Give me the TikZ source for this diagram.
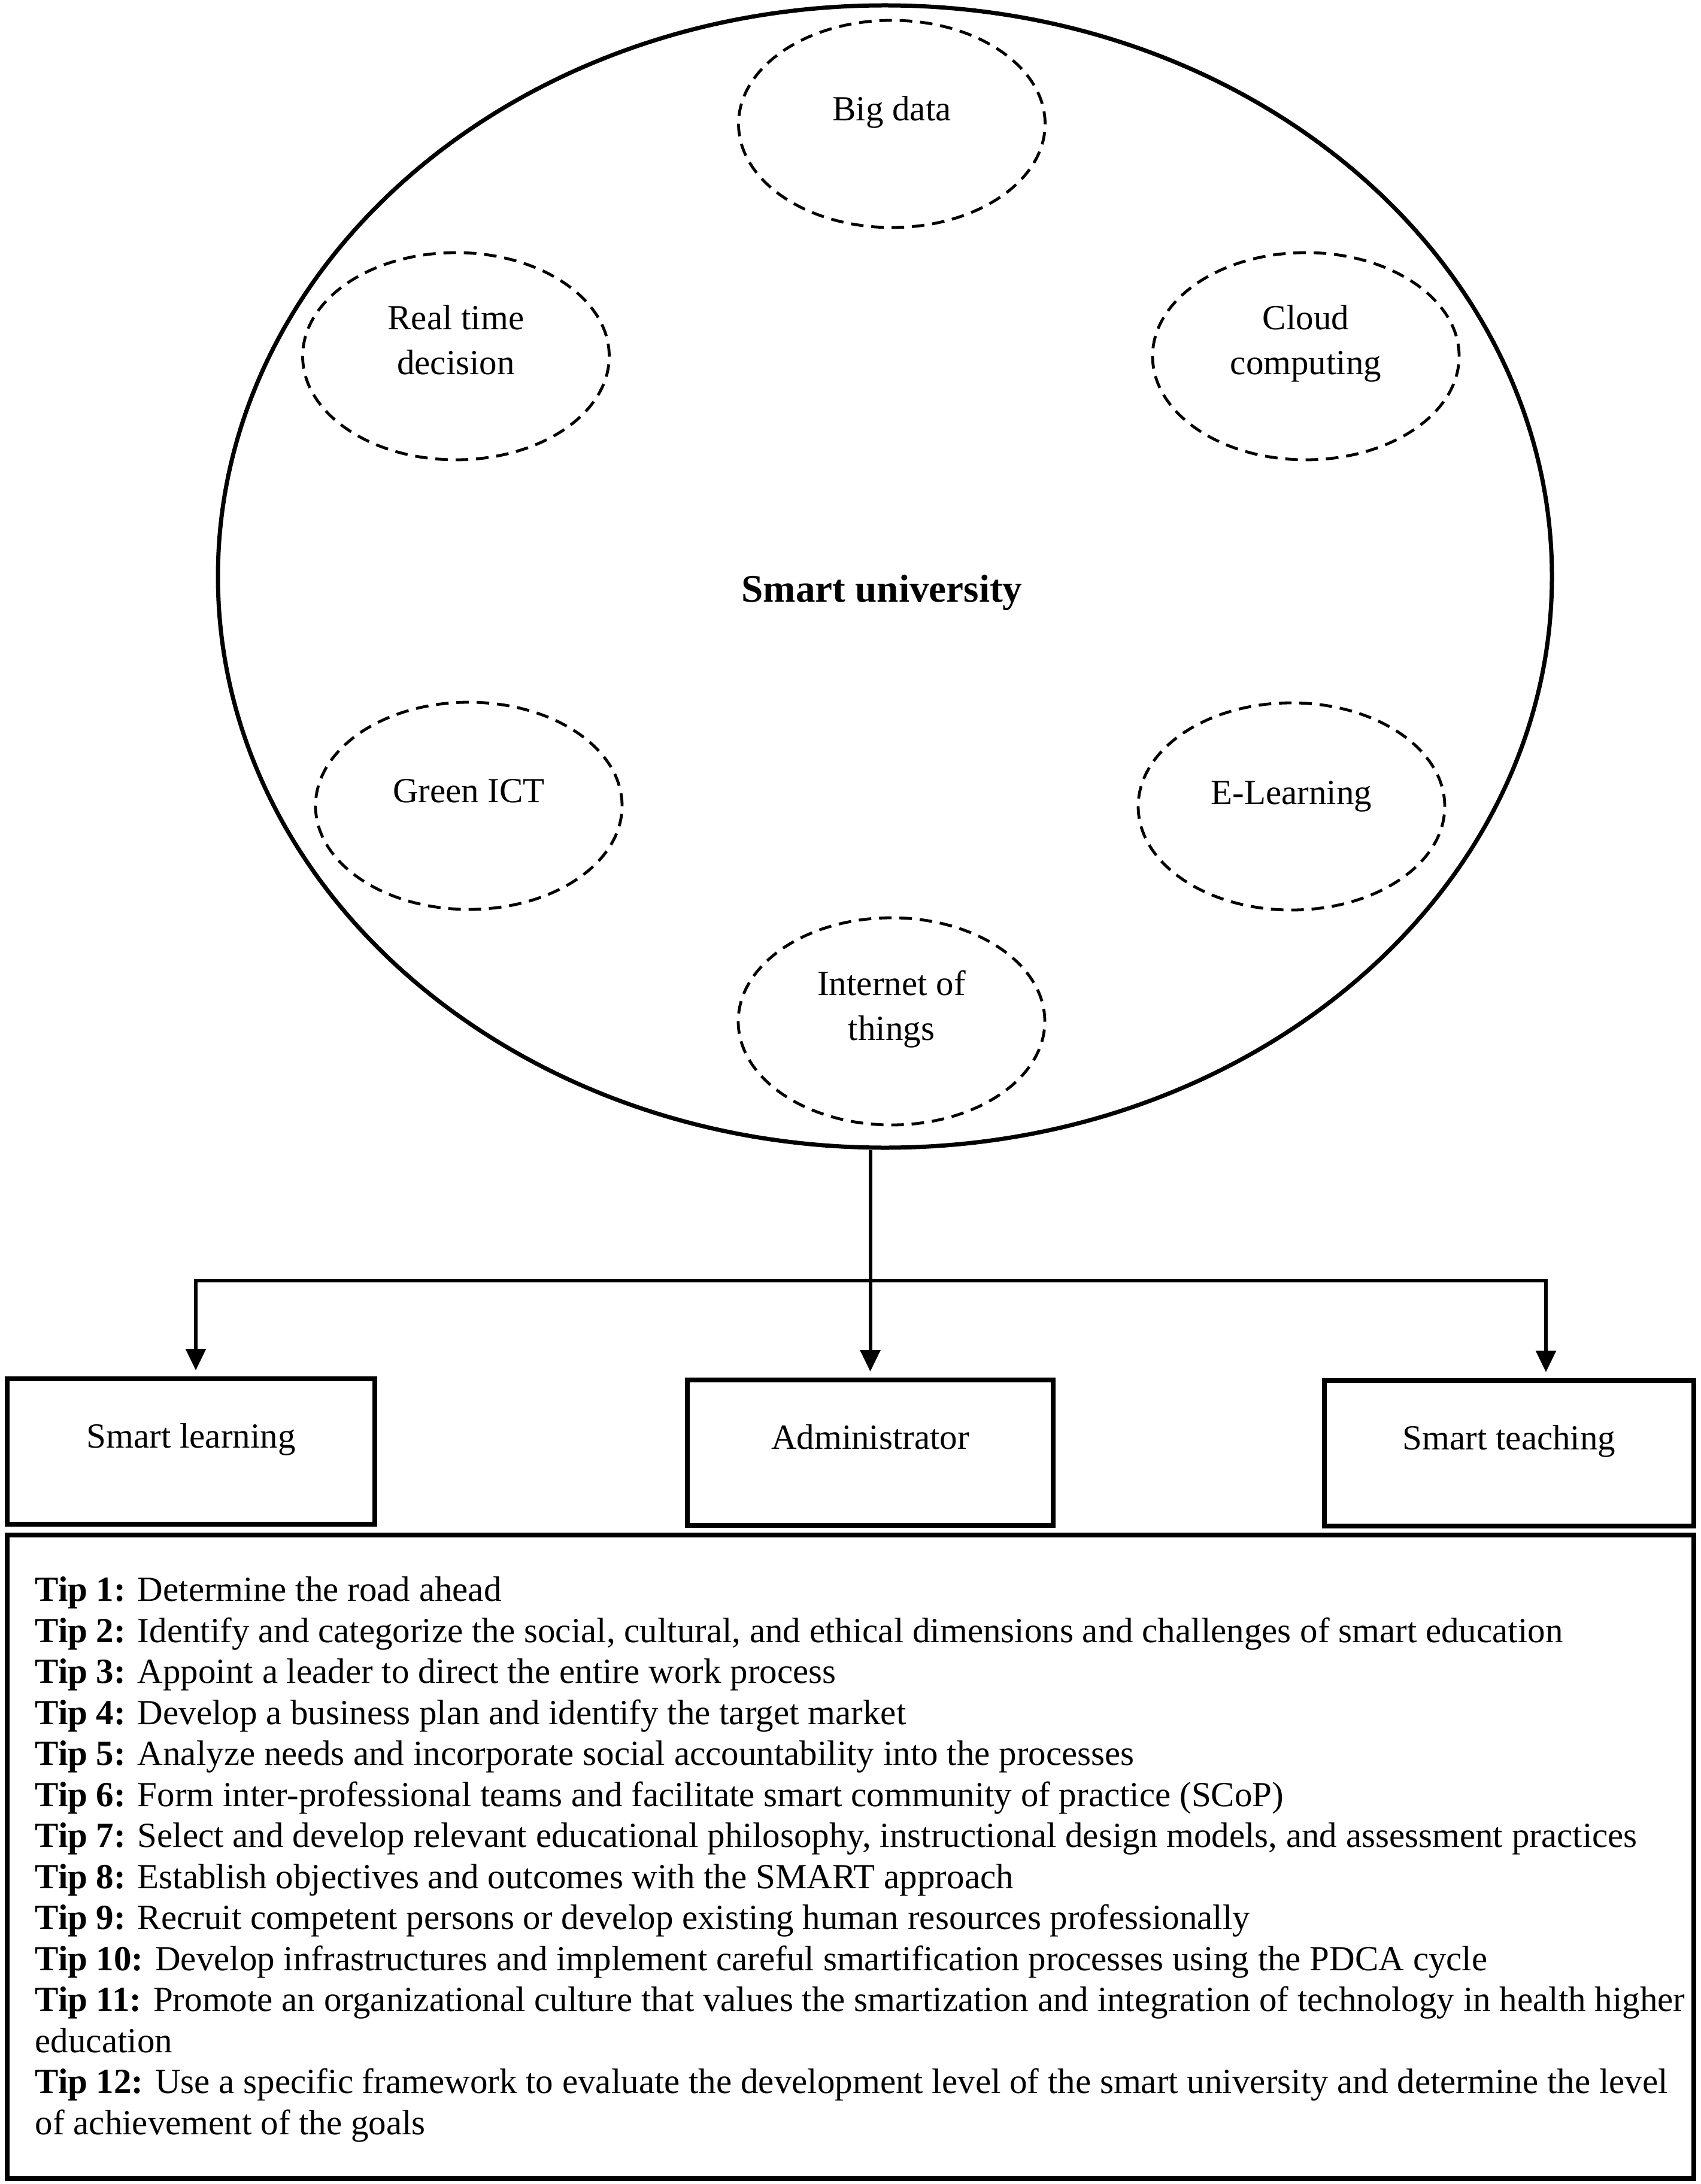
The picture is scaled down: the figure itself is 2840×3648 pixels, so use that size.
\documentclass[tikz,border=0pt]{standalone}
\usepackage{fontspec}
\setmainfont{Liberation Serif}
\usetikzlibrary{arrows.meta,shapes.geometric}
\begin{document}
\begin{tikzpicture}[x=0.25pt,y=-0.25pt,
  bigell/.style={ellipse,draw,line width=1.75pt,minimum width=557pt,minimum height=477pt,inner sep=0pt},
  dashell/.style={ellipse,draw,line width=1.2pt,dash pattern=on 5.25pt off 3.25pt,minimum width=128pt,minimum height=86.5pt,inner sep=0pt},
  lbl/.style={font=\fontsize{14.75}{18.75}\selectfont,align=center,inner sep=0pt,anchor=base},
  boxnode/.style={rectangle,draw,line width=2pt,minimum height=60.75pt,inner sep=0pt,
    font=\fontsize{14.75}{17}\selectfont,text height=10pt,text depth=13pt},
  conn/.style={line width=1.5pt},
  arr/.style={line width=1.5pt,-{Triangle[length=9pt,width=8.25pt]},shorten >=2.5pt}
]
\fill[white] (0,0) rectangle (2840,3648);
\useasboundingbox (0,0) rectangle (2840,3648);

% main ellipse
\node[bigell] (uni) at (1478,963) {};
\node[font=\fontsize{16.3}{19}\selectfont\bfseries,inner sep=0pt,anchor=base] (unitxt) at (1473,1005) {Smart university};

% dashed ellipses
\node[dashell] (bd)  at (1489.5,207) {};
\node[dashell] (rt)  at (761.5,595) {};
\node[dashell] (cc)  at (2181,595) {};
\node[dashell] (gi)  at (783,1346) {};
\node[dashell] (el)  at (2157,1347) {};
\node[dashell] (iot) at (1489,1706) {};

% labels (base anchor = baseline of last line)
\node[lbl] (bdt)  at (1489.5,202) {Big data};
\node[lbl] (rtt)  at (761.5,626) {Real time\\decision};
\node[lbl] (cct)  at (2181,626) {Cloud\\computing};
\node[lbl] (git)  at (783,1340) {Green ICT};
\node[lbl] (elt)  at (2157,1343) {E-Learning};
\node[lbl] (iott) at (1489,1737) {Internet of\\things};

% boxes
\node[boxnode,minimum width=153.5pt] (sl) at (319,2424.5) {Smart learning};
\node[boxnode,minimum width=152.75pt] (ad) at (1453.5,2426.5) {Administrator};
\node[boxnode,minimum width=154.25pt] (st) at (2520.5,2427.5) {Smart teaching};

% tips box
\node[rectangle,draw,line width=2pt,minimum width=704.25pt,minimum height=268.75pt,inner sep=0pt] (tips) at (1420.5,3101.5) {};
\node[font=\fontsize{14.75}{17.12}\selectfont,align=left,inner sep=0pt,anchor=base west] (tipstxt) at (58,3565) {%
\textbf{Tip 1:} Determine the road ahead\\
\textbf{Tip 2:} Identify and categorize the social, cultural, and ethical dimensions and challenges of smart education\\
\textbf{Tip 3:} Appoint a leader to direct the entire work process\\
\textbf{Tip 4:} Develop a business plan and identify the target market\\
\textbf{Tip 5:} Analyze needs and incorporate social accountability into the processes\\
\textbf{Tip 6:} Form inter-professional teams and facilitate smart community of practice (SCoP)\\
\textbf{Tip 7:} Select and develop relevant educational philosophy, instructional design models, and assessment practices\\
\textbf{Tip 8:} Establish objectives and outcomes with the SMART approach\\
\textbf{Tip 9:} Recruit competent persons or develop existing human resources professionally\\
\textbf{Tip 10:} Develop infrastructures and implement careful smartification processes using the PDCA cycle\\
\textbf{Tip 11:} Promote an organizational culture that values the smartization and integration of technology in health higher\\
education\\
\textbf{Tip 12:} Use a specific framework to evaluate the development level of the smart university and determine the level\\
of achievement of the goals};

% connectors
\coordinate (hl) at (327,2139);
\coordinate (hr) at (2582,2139);
\draw[arr] (ad.north |- uni.south) -- (ad.north);
\draw[conn] (hl) -- (hr);
\draw[arr] ([yshift=0.75pt]hl) -- (hl |- sl.north);
\draw[arr] ([yshift=0.75pt]hr) -- (hr |- st.north);
\end{tikzpicture}
\end{document}
